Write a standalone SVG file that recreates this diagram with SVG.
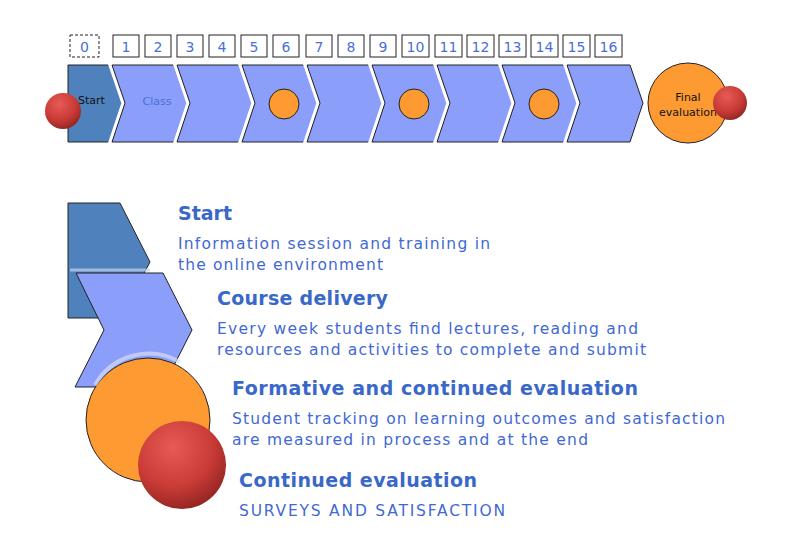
<svg xmlns="http://www.w3.org/2000/svg" width="800" height="537" viewBox="0 0 800 537">
<defs>
<radialGradient id="red" cx="0.4" cy="0.3" r="0.75"><stop offset="0" stop-color="#e85a55"/><stop offset="0.6" stop-color="#c93b36"/><stop offset="1" stop-color="#8f2320"/></radialGradient>
<symbol id="chev" overflow="visible"><path d="M0,0 H63 L76,38 L63,77 H0 L13,38 Z" fill="none" stroke="#fff" stroke-width="7"/><path d="M0,0 H63 L76,38 L63,77 H0 L13,38 Z" fill="#8b9ef9" stroke="#222"/></symbol>
</defs>
<style>
.num{fill:#fff;stroke:#222;stroke-width:1}
.nt{font-family:"DejaVu Sans",sans-serif;font-size:14px;fill:#4a6fd8;text-anchor:middle}
.ch{fill:#8b9ef9;stroke:#222;stroke-width:1}
.or{fill:#fd9a32;stroke:#222;stroke-width:1}
.h{font-family:"DejaVu Sans",sans-serif;font-size:19px;font-weight:bold;fill:#3a68c9}
.d{font-family:"DejaVu Sans",sans-serif;font-size:15.5px;fill:#4169d4}
</style>
<g id="numbers">
<rect x="70" y="35" width="29" height="22" fill="#fff" stroke="#222" stroke-dasharray="3,2"/>
<text class="nt" x="84.5" y="52">0</text>
<g id="nums">
<rect class="num" x="113" y="35" width="26" height="22"/><text class="nt" x="126" y="52">1</text>
<rect class="num" x="145" y="35" width="26" height="22"/><text class="nt" x="158" y="52">2</text>
<rect class="num" x="177" y="35" width="26" height="22"/><text class="nt" x="190" y="52">3</text>
<rect class="num" x="209" y="35" width="26" height="22"/><text class="nt" x="222" y="52">4</text>
<rect class="num" x="241" y="35" width="26" height="22"/><text class="nt" x="254" y="52">5</text>
<rect class="num" x="273" y="35" width="26" height="22"/><text class="nt" x="286" y="52">6</text>
<rect class="num" x="306" y="35" width="26" height="22"/><text class="nt" x="319" y="52">7</text>
<rect class="num" x="338" y="35" width="26" height="22"/><text class="nt" x="351" y="52">8</text>
<rect class="num" x="370" y="35" width="26" height="22"/><text class="nt" x="383" y="52">9</text>
<rect class="num" x="402" y="35" width="27" height="22"/><text class="nt" x="415.5" y="52">10</text>
<rect class="num" x="435" y="35" width="27" height="22"/><text class="nt" x="448.5" y="52">11</text>
<rect class="num" x="467" y="35" width="27" height="22"/><text class="nt" x="480.5" y="52">12</text>
<rect class="num" x="499" y="35" width="27" height="22"/><text class="nt" x="512.5" y="52">13</text>
<rect class="num" x="531" y="35" width="27" height="22"/><text class="nt" x="544.5" y="52">14</text>
<rect class="num" x="563" y="35" width="27" height="22"/><text class="nt" x="576.5" y="52">15</text>
<rect class="num" x="595" y="35" width="27" height="22"/><text class="nt" x="608.5" y="52">16</text>
</g>
</g>
<g id="timeline">
<path d="M68,65 H110 L123,103 L110,142 H68 Z" fill="#4f81bd" stroke="#222"/>
<text x="78" y="104" font-family="DejaVu Sans,sans-serif" font-size="11" fill="#111">Start</text>
<use href="#chev" x="112" y="65"/>
<text x="157" y="105" font-family="DejaVu Sans,sans-serif" font-size="11" fill="#4a6fd8" text-anchor="middle">Class</text>
<use href="#chev" x="177" y="65"/>
<use href="#chev" x="242" y="65"/>
<use href="#chev" x="307" y="65"/>
<use href="#chev" x="372" y="65"/>
<use href="#chev" x="437" y="65"/>
<use href="#chev" x="502" y="65"/>
<use href="#chev" x="567" y="65"/>
<circle class="or" cx="284" cy="104" r="15"/>
<circle class="or" cx="414" cy="104" r="15"/>
<circle class="or" cx="544" cy="104" r="15"/>
<circle class="or" cx="688" cy="103" r="40"/>
<text x="688" y="101" font-family="DejaVu Sans,sans-serif" font-size="11" fill="#111" text-anchor="middle">Final</text>
<text x="688" y="116" font-family="DejaVu Sans,sans-serif" font-size="11" fill="#111" text-anchor="middle">evaluation</text>
<circle cx="730" cy="103" r="17" fill="url(#red)"/>
<circle cx="63" cy="111" r="18" fill="url(#red)"/>
</g>
<g id="legend-shapes">
<path d="M68,203 H120 L150,262 L120,318 H68 Z" fill="#4f81bd" stroke="#222"/>
<path d="M76,273 H163 L192,330 L163,387 H75 L104,330 Z" class="ch"/>
<path d="M70,270 H150" stroke="#c6d3ea" stroke-width="3" opacity="0.7"/>
<circle class="or" cx="148" cy="420" r="62"/>
<path d="M95,385 A62,62 0 0 1 180,362" fill="none" stroke="#d8dcf5" stroke-width="4" opacity="0.7"/>
<circle cx="182" cy="465" r="44" fill="url(#red)"/>
</g>
<g id="texts">
<text class="h" x="178" y="220" textLength="54">Start</text>
<text class="d" x="178" y="249" textLength="312">Information session and training in</text>
<text class="d" x="178" y="270" textLength="205">the online environment</text>
<text class="h" x="217" y="305" textLength="171">Course delivery</text>
<text class="d" x="217" y="334" textLength="421">Every week students find lectures, reading and</text>
<text class="d" x="217" y="355" textLength="429">resources and activities to complete and submit</text>
<text class="h" x="232" y="395" textLength="406">Formative and continued evaluation</text>
<text class="d" x="232" y="424" textLength="493">Student tracking on learning outcomes and satisfaction</text>
<text class="d" x="232" y="445" textLength="356">are measured in process and at the end</text>
<text class="h" x="239" y="487" textLength="238">Continued evaluation</text>
<text class="d" x="239" y="516" textLength="266">SURVEYS AND SATISFACTION</text>
</g>
</svg>
